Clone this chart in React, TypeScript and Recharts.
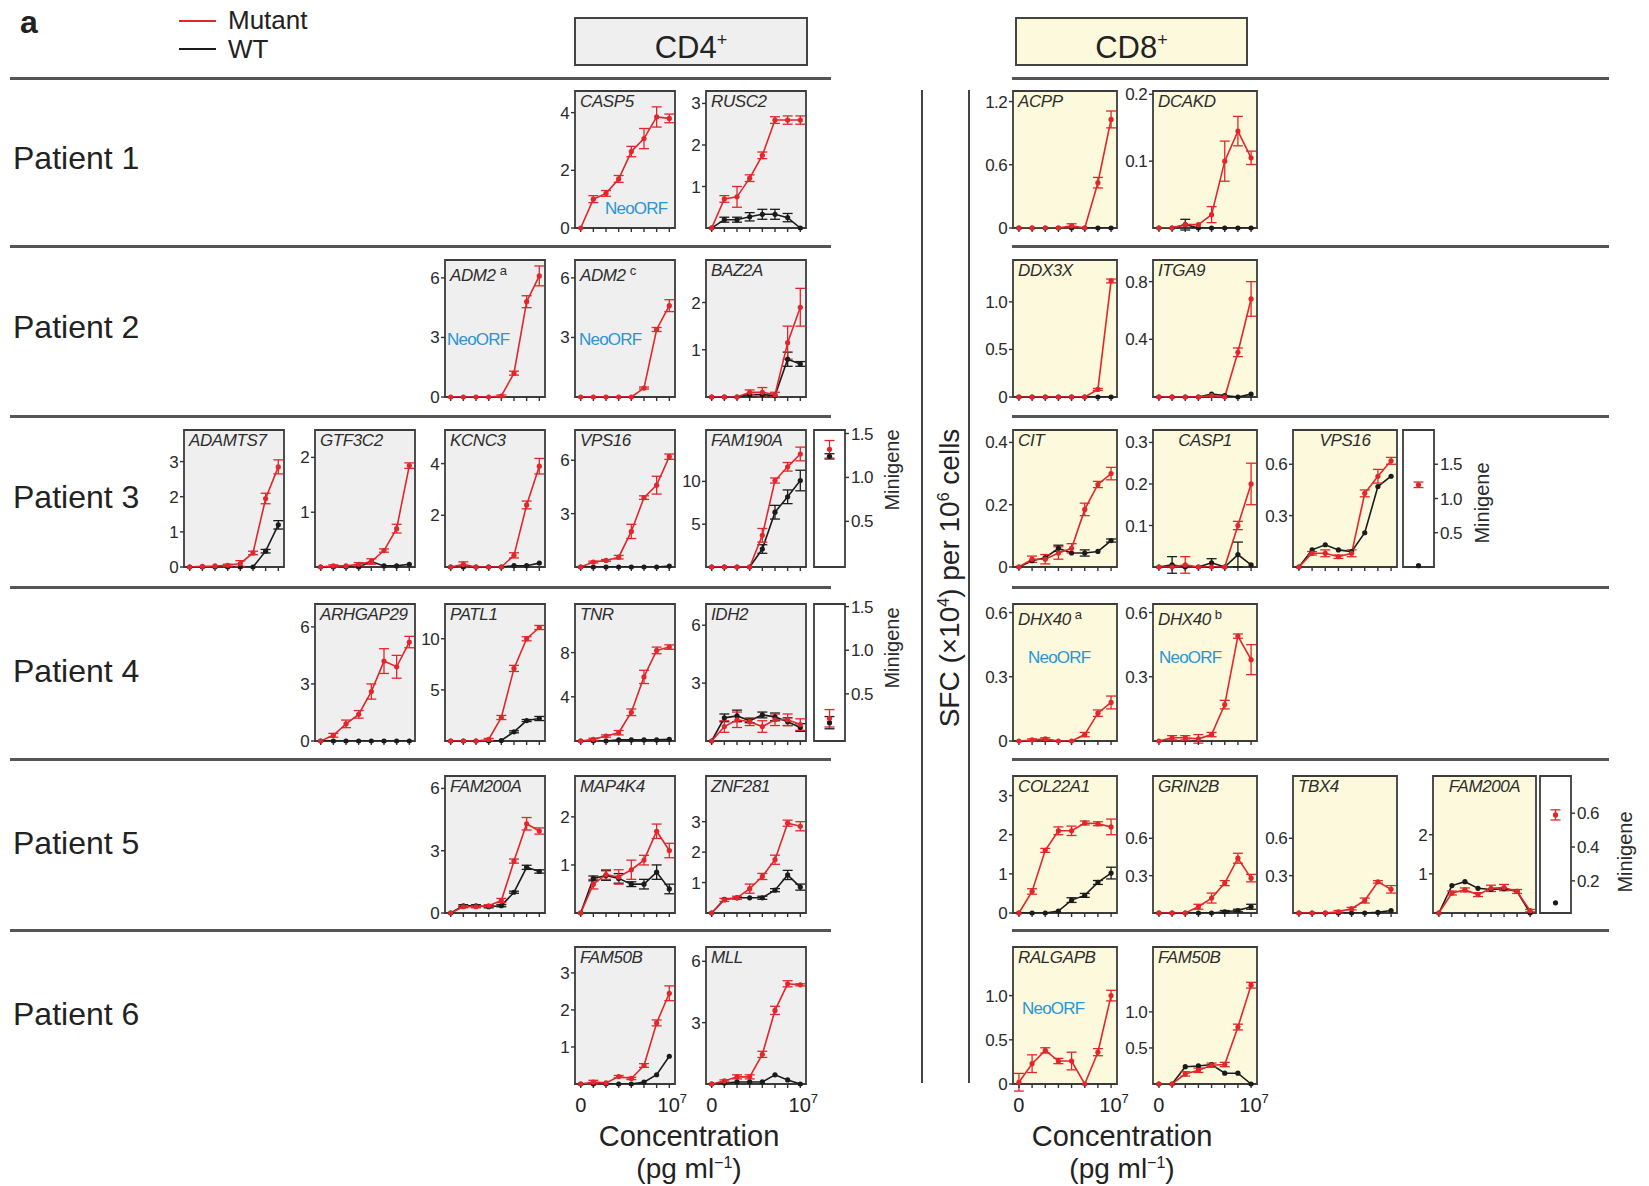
import React from "react";
import { LineChart, Line, XAxis, YAxis, ErrorBar, CartesianGrid, ReferenceArea } from "recharts";

const RED = "#e3262b";
const BLACK = "#1b1b1b";
const BLUE = "#2a94d6";
const CD4_BG = "#efefef";
const CD8_BG = "#fcf9dc";
const FONT = '"Liberation Sans", Arial, Helvetica, sans-serif';

// concentration steps 0, 10^1 ... 10^7 pg/ml
const conc = [0, 1, 2, 3, 4, 5, 6, 7];
const concLabels = ["0", "", "", "", "", "", "", "10^7"];

// ---- CD4+ ----
const casp5Mut = [0, 1.0, 1.2, 1.7, 2.65, 3.1, 3.85, 3.8];
const casp5MutErr = [0, 0.12, 0.1, 0.12, 0.18, 0.35, 0.35, 0.15];

const rusc2Mut = [0, 0.7, 0.75, 1.2, 1.75, 2.6, 2.6, 2.6];
const rusc2MutErr = [0, 0.08, 0.25, 0.08, 0.08, 0.08, 0.1, 0.1];
const rusc2Wt = [0, 0.2, 0.2, 0.27, 0.33, 0.33, 0.25, 0];
const rusc2WtErr = [0, 0.06, 0.06, 0.1, 0.12, 0.12, 0.1, 0];

const adm2aMut = [0, 0, 0, 0, 0.05, 1.2, 4.8, 6.1];
const adm2aMutErr = [0, 0, 0, 0, 0.05, 0.1, 0.3, 0.5];
const adm2cMut = [0, 0, 0, 0, 0, 0.45, 3.4, 4.6];
const adm2cMutErr = [0, 0, 0, 0, 0, 0.05, 0.1, 0.3];
const baz2aMut = [0, 0, 0, 0.1, 0.1, 0.05, 1.15, 1.9];
const baz2aMutErr = [0, 0, 0, 0.05, 0.1, 0.05, 0.35, 0.4];
const baz2aWt = [0, 0, 0, 0.05, 0.05, 0.03, 0.8, 0.7];
const baz2aWtErr = [0, 0, 0, 0, 0, 0, 0.15, 0.05];

const adamts7Mut = [0, 0.02, 0.03, 0.05, 0.1, 0.4, 1.95, 2.85];
const adamts7MutErr = [0, 0, 0, 0.03, 0.08, 0.05, 0.15, 0.2];
const adamts7Wt = [0, 0, 0, 0, 0, 0, 0.45, 1.2];
const adamts7WtErr = [0, 0, 0, 0, 0, 0, 0.05, 0.12];
const gtf3c2Mut = [0, 0.02, 0.02, 0.05, 0.1, 0.3, 0.7, 1.85];
const gtf3c2MutErr = [0, 0.02, 0, 0.03, 0.05, 0.03, 0.08, 0.05];
const gtf3c2Wt = [0, 0, 0, 0, 0.1, 0.02, 0.02, 0.05];
const kcnc3Mut = [0, 0.1, 0, 0, 0, 0.45, 2.4, 3.9];
const kcnc3MutErr = [0, 0.1, 0, 0, 0, 0.1, 0.15, 0.3];
const kcnc3Wt = [0, 0, 0, 0, 0, 0.05, 0.05, 0.15];
const vps16Mut = [0, 0.28, 0.37, 0.55, 2.0, 3.9, 4.6, 6.2];
const vps16MutErr = [0, 0.05, 0.05, 0.1, 0.4, 0.1, 0.5, 0.15];
const vps16Wt = [0, 0, 0, 0, 0, 0, 0, 0.05];
const fam190aMut = [0, 0, 0, 0, 3.7, 10.1, 11.7, 13.2];
const fam190aMutErr = [0, 0, 0, 0, 0.8, 0.3, 0.5, 0.8];
const fam190aWt = [0, 0, 0, 0, 2.1, 6.4, 8.2, 10.1];
const fam190aWtErr = [0, 0, 0, 0, 0.5, 0.8, 0.8, 1.2];
const p3Cd4MiniMut = [1.32];
const p3Cd4MiniMutErr = [0.1];
const p3Cd4MiniWt = [1.24];
const p3Cd4MiniWtErr = [0.03];

const arhgap29Mut = [0, 0.3, 0.9, 1.4, 2.6, 4.2, 3.9, 5.2];
const arhgap29MutErr = [0, 0.1, 0.2, 0.2, 0.4, 0.65, 0.6, 0.3];
const arhgap29Wt = [0, 0, 0, 0, 0, 0, 0, 0];
const patl1Mut = [0, 0, 0, 0.15, 2.3, 7.1, 10.0, 11.1];
const patl1MutErr = [0, 0, 0, 0.1, 0.2, 0.3, 0.2, 0.2];
const patl1Wt = [0, 0, 0, 0, 0.05, 0.9, 2.0, 2.2];
const patl1WtErr = [0, 0, 0, 0, 0, 0.1, 0.1, 0.2];
const tnrMut = [0, 0.15, 0.45, 0.75, 2.6, 5.8, 8.2, 8.5];
const tnrMutErr = [0, 0.1, 0.1, 0.2, 0.3, 0.6, 0.3, 0.2];
const tnrWt = [0, 0, 0, 0.1, 0.1, 0.1, 0.1, 0.15];
const idh2Mut = [0, 0.75, 1.1, 1.0, 0.75, 1.1, 1.1, 0.85];
const idh2MutErr = [0, 0.3, 0.4, 0.2, 0.3, 0.3, 0.3, 0.3];
const idh2Wt = [0, 1.2, 1.3, 1.05, 1.35, 1.25, 1.0, 0.7];
const idh2WtErr = [0, 0.2, 0.3, 0.1, 0.15, 0.2, 0.2, 0.2];
const p4Cd4MiniMut = [0.22];
const p4Cd4MiniMutErr = [0.1];
const p4Cd4MiniWt = [0.17];
const p4Cd4MiniWtErr = [0.07];

const fam200aMut = [0, 0.3, 0.3, 0.35, 0.6, 2.5, 4.3, 3.95];
const fam200aMutErr = [0, 0.05, 0.05, 0.05, 0.1, 0.1, 0.3, 0.15];
const fam200aWt = [0, 0.35, 0.35, 0.3, 0.35, 1.0, 2.2, 2.0];
const fam200aWtErr = [0, 0.05, 0.05, 0.05, 0.05, 0.05, 0.1, 0.08];
const map4k4Mut = [0, 0.6, 0.8, 0.75, 0.9, 1.1, 1.7, 1.3];
const map4k4MutErr = [0, 0.1, 0.1, 0.15, 0.2, 0.1, 0.15, 0.15];
const map4k4Wt = [0, 0.72, 0.78, 0.72, 0.6, 0.6, 0.85, 0.5];
const map4k4WtErr = [0, 0.05, 0.1, 0.1, 0.05, 0.1, 0.15, 0.1];
const znf281Mut = [0, 0.43, 0.5, 0.8, 1.2, 1.75, 2.95, 2.85];
const znf281MutErr = [0, 0.05, 0.05, 0.15, 0.1, 0.15, 0.1, 0.15];
const znf281Wt = [0, 0.45, 0.5, 0.5, 0.5, 0.75, 1.25, 0.85];
const znf281WtErr = [0, 0, 0, 0, 0.05, 0.05, 0.15, 0.1];

const fam50bMut = [0, 0.05, 0.03, 0.2, 0.15, 0.5, 1.65, 2.45];
const fam50bMutErr = [0, 0.05, 0, 0.03, 0.03, 0.05, 0.08, 0.2];
const fam50bWt = [0, 0, 0, 0, 0, 0.05, 0.25, 0.75];
const mllMut = [0, 0.15, 0.35, 0.35, 1.45, 3.6, 4.9, 4.85];
const mllMutErr = [0, 0.05, 0.1, 0.1, 0.15, 0.2, 0.15, 0.05];
const mllWt = [0, 0.05, 0.1, 0.1, 0.1, 0.45, 0.2, 0];

// ---- CD8+ ----
const acppMut = [0, 0, 0, 0, 0.02, 0, 0.43, 1.03];
const acppMutErr = [0, 0, 0, 0, 0.02, 0, 0.05, 0.08];
const acppWt = [0, 0, 0, 0, 0, 0, 0, 0];
const dcakdMut = [0, 0, 0.005, 0.005, 0.02, 0.1, 0.145, 0.105];
const dcakdMutErr = [0, 0, 0, 0, 0.012, 0.03, 0.022, 0.01];
const dcakdWt = [0, 0, 0.005, 0, 0, 0, 0, 0];
const dcakdWtErr = [0, 0, 0.008, 0, 0, 0, 0, 0];

const ddx3xMut = [0, 0, 0, 0, 0, 0, 0.08, 1.22];
const ddx3xMutErr = [0, 0, 0, 0, 0, 0, 0.01, 0.02];
const ddx3xWt = [0, 0, 0, 0, 0, 0, 0, 0];
const itga9Mut = [0, 0, 0, 0, 0.01, 0, 0.31, 0.68];
const itga9MutErr = [0, 0, 0, 0, 0, 0, 0.03, 0.12];
const itga9Wt = [0, 0, 0, 0, 0.02, 0.01, 0, 0.02];

const citMut = [0, 0.025, 0.025, 0.045, 0.06, 0.185, 0.265, 0.3];
const citMutErr = [0, 0.01, 0.015, 0.02, 0.015, 0.02, 0.01, 0.02];
const citWt = [0, 0.02, 0.03, 0.06, 0.045, 0.045, 0.05, 0.085];
const citWtErr = [0, 0, 0, 0.01, 0, 0.01, 0, 0.005];
const casp1Mut = [0, 0, 0.005, 0, 0, 0, 0.1, 0.2];
const casp1MutErr = [0, 0, 0.02, 0, 0, 0, 0.01, 0.05];
const casp1Wt = [0, 0.005, 0, 0, 0.01, 0, 0.03, 0.005];
const casp1WtErr = [0, 0.02, 0, 0, 0.01, 0, 0.03, 0];
const cd8Vps16Mut = [0, 0.08, 0.08, 0.06, 0.08, 0.43, 0.53, 0.62];
const cd8Vps16MutErr = [0, 0.01, 0.02, 0.01, 0.02, 0.02, 0.04, 0.02];
const cd8Vps16Wt = [0, 0.1, 0.13, 0.1, 0.09, 0.2, 0.47, 0.53];
const p3Cd8MiniMut = [1.2];
const p3Cd8MiniMutErr = [0.04];
const p3Cd8MiniWt = [0.02];
const p3Cd8MiniWtErr = [0];

const dhx40aMut = [0, 0.005, 0.01, 0, 0, 0.03, 0.13, 0.18];
const dhx40aMutErr = [0, 0.005, 0.005, 0, 0, 0.01, 0.015, 0.03];
const dhx40bMut = [0, 0.015, 0.015, 0.01, 0.03, 0.17, 0.49, 0.38];
const dhx40bMutErr = [0, 0.01, 0.01, 0.02, 0.01, 0.02, 0.01, 0.07];

const col22a1Mut = [0, 0.55, 1.6, 2.1, 2.1, 2.3, 2.28, 2.2];
const col22a1MutErr = [0, 0.07, 0.05, 0.1, 0.12, 0.05, 0.05, 0.2];
const col22a1Wt = [0, 0, 0, 0.05, 0.33, 0.45, 0.78, 1.02];
const col22a1WtErr = [0, 0, 0, 0, 0.06, 0.05, 0.05, 0.15];
const grin2bMut = [0, 0, 0, 0.05, 0.12, 0.24, 0.44, 0.28];
const grin2bMutErr = [0, 0, 0, 0.02, 0.04, 0.02, 0.04, 0.03];
const grin2bWt = [0, 0, 0, 0, 0, 0.01, 0.02, 0.05];
const grin2bWtErr = [0, 0, 0, 0, 0, 0.01, 0.01, 0.02];
const tbx4Mut = [0, 0, 0, 0.01, 0.035, 0.1, 0.25, 0.19];
const tbx4MutErr = [0, 0, 0, 0.01, 0.01, 0.02, 0.01, 0.03];
const tbx4Wt = [0, 0, 0, 0, 0, 0, 0.005, 0.02];
const cd8Fam200aMut = [0, 0.51, 0.59, 0.47, 0.63, 0.65, 0.55, 0.06];
const cd8Fam200aMutErr = [0, 0.05, 0.05, 0.05, 0.08, 0.08, 0.05, 0.03];
const cd8Fam200aWt = [0, 0.7, 0.8, 0.63, 0.6, 0.62, 0.55, 0];
const p5Cd8MiniMut = [0.59];
const p5Cd8MiniMutErr = [0.03];
const p5Cd8MiniWt = [0.07];
const p5Cd8MiniWtErr = [0];

const ralgapbMut = [0.02, 0.23, 0.38, 0.26, 0.26, 0, 0.36, 1.0];
const ralgapbMutErr = [0.1, 0.1, 0.03, 0.03, 0.1, 0, 0.04, 0.06];
const cd8Fam50bMut = [0, 0, 0.14, 0.19, 0.26, 0.27, 0.79, 1.37];
const cd8Fam50bMutErr = [0, 0, 0.03, 0.03, 0.03, 0.03, 0.04, 0.04];
const cd8Fam50bWt = [0, 0, 0.24, 0.25, 0.27, 0.15, 0.15, 0];

// layout
const CD4_X = [184, 315, 445, 575, 706];
const CD8_X = [1013, 1153, 1293, 1433];
const ROW_Y = [91, 260, 430, 604, 776, 947];
const BOX_H = 137;
const PAD_L = 44;
const PAD_R = 18;
const PAD_T = 12;
const X_DOM: [number, number] = [-0.45, 7.45];

type Spec = {
  gene: string;
  sup?: string;
  cd8?: boolean;
  left: number;
  top: number;
  w?: number;
  yMax: number;
  ticks: number[];
  dec?: number;
  mut: number[];
  mutErr: number[];
  wt?: number[];
  wtErr?: number[];
  neo?: [number, number];
  center?: boolean;
  bottom?: boolean;
};

const panels: Spec[] = [
  // Patient 1
  { gene: "CASP5", left: CD4_X[3], top: ROW_Y[0], yMax: 4.75, ticks: [0, 2, 4], mut: casp5Mut, mutErr: casp5MutErr, neo: [30, 108] },
  { gene: "RUSC2", left: CD4_X[4], top: ROW_Y[0], yMax: 3.3, ticks: [1, 2, 3], mut: rusc2Mut, mutErr: rusc2MutErr, wt: rusc2Wt, wtErr: rusc2WtErr },
  { gene: "ACPP", cd8: true, left: CD8_X[0], top: ROW_Y[0], w: 104, yMax: 1.3, ticks: [0, 0.6, 1.2], dec: 1, mut: acppMut, mutErr: acppMutErr, wt: acppWt },
  { gene: "DCAKD", cd8: true, left: CD8_X[1], top: ROW_Y[0], w: 104, yMax: 0.205, ticks: [0.1, 0.2], dec: 1, mut: dcakdMut, mutErr: dcakdMutErr, wt: dcakdWt, wtErr: dcakdWtErr },
  // Patient 2
  { gene: "ADM2", sup: "a", left: CD4_X[2], top: ROW_Y[1], yMax: 6.9, ticks: [0, 3, 6], mut: adm2aMut, mutErr: adm2aMutErr, neo: [2, 70] },
  { gene: "ADM2", sup: "c", left: CD4_X[3], top: ROW_Y[1], yMax: 6.9, ticks: [3, 6], mut: adm2cMut, mutErr: adm2cMutErr, neo: [4, 70] },
  { gene: "BAZ2A", left: CD4_X[4], top: ROW_Y[1], yMax: 2.9, ticks: [1, 2], mut: baz2aMut, mutErr: baz2aMutErr, wt: baz2aWt, wtErr: baz2aWtErr },
  { gene: "DDX3X", cd8: true, left: CD8_X[0], top: ROW_Y[1], w: 104, yMax: 1.44, ticks: [0, 0.5, 1.0], dec: 1, mut: ddx3xMut, mutErr: ddx3xMutErr, wt: ddx3xWt },
  { gene: "ITGA9", cd8: true, left: CD8_X[1], top: ROW_Y[1], w: 104, yMax: 0.95, ticks: [0.4, 0.8], dec: 1, mut: itga9Mut, mutErr: itga9MutErr, wt: itga9Wt },
  // Patient 3
  { gene: "ADAMTS7", left: CD4_X[0], top: ROW_Y[2], yMax: 3.9, ticks: [0, 1, 2, 3], mut: adamts7Mut, mutErr: adamts7MutErr, wt: adamts7Wt, wtErr: adamts7WtErr },
  { gene: "GTF3C2", left: CD4_X[1], top: ROW_Y[2], yMax: 2.5, ticks: [1, 2], mut: gtf3c2Mut, mutErr: gtf3c2MutErr, wt: gtf3c2Wt },
  { gene: "KCNC3", left: CD4_X[2], top: ROW_Y[2], yMax: 5.3, ticks: [2, 4], mut: kcnc3Mut, mutErr: kcnc3MutErr, wt: kcnc3Wt },
  { gene: "VPS16", left: CD4_X[3], top: ROW_Y[2], yMax: 7.7, ticks: [3, 6], mut: vps16Mut, mutErr: vps16MutErr, wt: vps16Wt },
  { gene: "FAM190A", left: CD4_X[4], top: ROW_Y[2], yMax: 16, ticks: [5, 10], mut: fam190aMut, mutErr: fam190aMutErr, wt: fam190aWt, wtErr: fam190aWtErr },
  { gene: "CIT", cd8: true, left: CD8_X[0], top: ROW_Y[2], w: 104, yMax: 0.44, ticks: [0, 0.2, 0.4], dec: 1, mut: citMut, mutErr: citMutErr, wt: citWt, wtErr: citWtErr },
  { gene: "CASP1", cd8: true, center: true, left: CD8_X[1], top: ROW_Y[2], w: 104, yMax: 0.33, ticks: [0.1, 0.2, 0.3], dec: 1, mut: casp1Mut, mutErr: casp1MutErr, wt: casp1Wt, wtErr: casp1WtErr },
  { gene: "VPS16", cd8: true, center: true, left: CD8_X[2], top: ROW_Y[2], w: 104, yMax: 0.8, ticks: [0.3, 0.6], dec: 1, mut: cd8Vps16Mut, mutErr: cd8Vps16MutErr, wt: cd8Vps16Wt },
  // Patient 4
  { gene: "ARHGAP29", left: CD4_X[1], top: ROW_Y[3], yMax: 7.2, ticks: [0, 3, 6], mut: arhgap29Mut, mutErr: arhgap29MutErr, wt: arhgap29Wt },
  { gene: "PATL1", left: CD4_X[2], top: ROW_Y[3], yMax: 13.4, ticks: [5, 10], mut: patl1Mut, mutErr: patl1MutErr, wt: patl1Wt, wtErr: patl1WtErr },
  { gene: "TNR", left: CD4_X[3], top: ROW_Y[3], yMax: 12.4, ticks: [4, 8], mut: tnrMut, mutErr: tnrMutErr, wt: tnrWt },
  { gene: "IDH2", left: CD4_X[4], top: ROW_Y[3], yMax: 7.1, ticks: [3, 6], mut: idh2Mut, mutErr: idh2MutErr, wt: idh2Wt, wtErr: idh2WtErr },
  { gene: "DHX40", sup: "a", cd8: true, left: CD8_X[0], top: ROW_Y[3], w: 104, yMax: 0.64, ticks: [0, 0.3, 0.6], dec: 1, mut: dhx40aMut, mutErr: dhx40aMutErr, neo: [15, 44] },
  { gene: "DHX40", sup: "b", cd8: true, left: CD8_X[1], top: ROW_Y[3], w: 104, yMax: 0.64, ticks: [0.3, 0.6], dec: 1, mut: dhx40bMut, mutErr: dhx40bMutErr, neo: [6, 44] },
  // Patient 5
  { gene: "FAM200A", left: CD4_X[2], top: ROW_Y[4], yMax: 6.6, ticks: [0, 3, 6], mut: fam200aMut, mutErr: fam200aMutErr, wt: fam200aWt, wtErr: fam200aWtErr },
  { gene: "MAP4K4", left: CD4_X[3], top: ROW_Y[4], yMax: 2.85, ticks: [1, 2], mut: map4k4Mut, mutErr: map4k4MutErr, wt: map4k4Wt, wtErr: map4k4WtErr },
  { gene: "ZNF281", left: CD4_X[4], top: ROW_Y[4], yMax: 4.5, ticks: [1, 2, 3], mut: znf281Mut, mutErr: znf281MutErr, wt: znf281Wt, wtErr: znf281WtErr },
  { gene: "COL22A1", cd8: true, left: CD8_X[0], top: ROW_Y[4], w: 104, yMax: 3.5, ticks: [0, 1, 2, 3], mut: col22a1Mut, mutErr: col22a1MutErr, wt: col22a1Wt, wtErr: col22a1WtErr },
  { gene: "GRIN2B", cd8: true, left: CD8_X[1], top: ROW_Y[4], w: 104, yMax: 1.1, ticks: [0.3, 0.6], dec: 1, mut: grin2bMut, mutErr: grin2bMutErr, wt: grin2bWt, wtErr: grin2bWtErr },
  { gene: "TBX4", cd8: true, left: CD8_X[2], top: ROW_Y[4], w: 104, yMax: 1.1, ticks: [0.3, 0.6], dec: 1, mut: tbx4Mut, mutErr: tbx4MutErr, wt: tbx4Wt },
  { gene: "FAM200A", cd8: true, center: true, left: CD8_X[3], top: ROW_Y[4], w: 103, yMax: 3.5, ticks: [1, 2], mut: cd8Fam200aMut, mutErr: cd8Fam200aMutErr, wt: cd8Fam200aWt },
  // Patient 6
  { gene: "FAM50B", bottom: true, left: CD4_X[3], top: ROW_Y[5], yMax: 3.7, ticks: [1, 2, 3], mut: fam50bMut, mutErr: fam50bMutErr, wt: fam50bWt },
  { gene: "MLL", bottom: true, left: CD4_X[4], top: ROW_Y[5], yMax: 6.7, ticks: [3, 6], mut: mllMut, mutErr: mllMutErr, wt: mllWt },
  { gene: "RALGAPB", cd8: true, bottom: true, left: CD8_X[0], top: ROW_Y[5], w: 104, yMax: 1.55, ticks: [0, 0.5, 1.0], dec: 1, mut: ralgapbMut, mutErr: ralgapbMutErr, neo: [9, 52] },
  { gene: "FAM50B", cd8: true, bottom: true, left: CD8_X[1], top: ROW_Y[5], w: 104, yMax: 1.9, ticks: [0.5, 1.0], dec: 1, mut: cd8Fam50bMut, mutErr: cd8Fam50bMutErr, wt: cd8Fam50bWt },
];

type MiniSpec = {
  left: number;
  top: number;
  yMin: number;
  yMax: number;
  ticks: number[];
  mut: number[];
  mutErr: number[];
  wt: number[];
  wtErr: number[];
  label: [number, number];
};

const minis: MiniSpec[] = [
  { left: 814, top: ROW_Y[2], yMin: -0.02, yMax: 1.54, ticks: [0.5, 1.0, 1.5], mut: p3Cd4MiniMut, mutErr: p3Cd4MiniMutErr, wt: p3Cd4MiniWt, wtErr: p3Cd4MiniWtErr, label: [892, 470] },
  { left: 814, top: ROW_Y[3], yMin: -0.04, yMax: 1.53, ticks: [0.5, 1.0, 1.5], mut: p4Cd4MiniMut, mutErr: p4Cd4MiniMutErr, wt: p4Cd4MiniWt, wtErr: p4Cd4MiniWtErr, label: [892, 648] },
  { left: 1403, top: ROW_Y[2], yMin: 0, yMax: 2.0, ticks: [0.5, 1.0, 1.5], mut: p3Cd8MiniMut, mutErr: p3Cd8MiniMutErr, wt: p3Cd8MiniWt, wtErr: p3Cd8MiniWtErr, label: [1482, 503] },
  { left: 1540, top: ROW_Y[4], yMin: 0.01, yMax: 0.82, ticks: [0.2, 0.4, 0.6], mut: p5Cd8MiniMut, mutErr: p5Cd8MiniMutErr, wt: p5Cd8MiniWt, wtErr: p5Cd8MiniWtErr, label: [1625, 852] },
];

const fmt = (v: number, dec: number) => (v === 0 ? "0" : v.toFixed(dec));

function XTick(props: any) {
  const { x, y, payload, show } = props;
  const lab = show ? concLabels[conc.indexOf(payload.value)] : "";
  if (!lab) return <g />;
  if (lab === "10^7") {
    return (
      <text x={x + 3} y={y + 22} textAnchor="middle" fontSize={20} fill="#222" fontFamily={FONT}>
        10<tspan dy={-9} fontSize={13}>7</tspan>
      </text>
    );
  }
  return (
    <text x={x} y={y + 22} textAnchor="middle" fontSize={20} fill="#222" fontFamily={FONT}>
      {lab}
    </text>
  );
}

const tickStyle = { fontSize: 17, fill: "#2a2a2a", fontFamily: FONT, letterSpacing: -0.6 };
const tickLine = { stroke: "#333", strokeWidth: 1.4 };

function Panel({ s }: { s: Spec }) {
  const w = s.w ?? 100;
  const padB = s.bottom ? 40 : 14;
  const dec = s.dec ?? 0;
  const rows = conc.map((c, i) => ({
    x: c,
    mut: s.mut[i],
    mutErr: s.mutErr[i],
    wt: s.wt ? s.wt[i] : undefined,
    wtErr: s.wtErr ? s.wtErr[i] : 0,
  }));
  return (
    <div style={{ position: "absolute", left: s.left - PAD_L, top: s.top - PAD_T }}>
      <LineChart width={w + PAD_L + PAD_R} height={BOX_H + PAD_T + padB} data={rows} margin={{ top: PAD_T, right: PAD_R, left: 0, bottom: 0 }}>
        <CartesianGrid horizontal={false} vertical={false} fill={s.cd8 ? CD8_BG : CD4_BG} fillOpacity={1} />
        <XAxis dataKey="x" type="number" domain={X_DOM} ticks={conc} interval={0} height={padB} axisLine={false} tickLine={tickLine} tickSize={4} tick={(p: any) => <XTick {...p} show={!!s.bottom} />} />
        <YAxis type="number" domain={[0, s.yMax]} allowDataOverflow ticks={s.ticks} interval={0} width={PAD_L} axisLine={false} tickLine={tickLine} tickSize={4} tickMargin={2} tick={tickStyle} tickFormatter={(v: number) => fmt(v, dec)} />
        <ReferenceArea x1={X_DOM[0]} x2={X_DOM[1]} y1={0} y2={s.yMax} fill="none" stroke="#3c3c3c" strokeWidth={1.8} ifOverflow="visible" />
        {s.wt && (
          <Line dataKey="wt" type="linear" stroke={BLACK} strokeWidth={1.6} dot={{ r: 2.6, fill: BLACK, stroke: BLACK, strokeWidth: 0, clipDot: false }} activeDot={false} isAnimationActive={false}>
            <ErrorBar dataKey="wtErr" direction="y" width={5} stroke={BLACK} strokeWidth={1.3} isAnimationActive={false} />
          </Line>
        )}
        <Line dataKey="mut" type="linear" stroke={RED} strokeWidth={1.6} dot={{ r: 2.6, fill: RED, stroke: RED, strokeWidth: 0, clipDot: false }} activeDot={false} isAnimationActive={false}>
          <ErrorBar dataKey="mutErr" direction="y" width={5} stroke={RED} strokeWidth={1.3} isAnimationActive={false} />
        </Line>
      </LineChart>
      <div
        style={{
          position: "absolute",
          top: PAD_T + 1,
          left: s.center ? PAD_L : PAD_L + 5,
          width: s.center ? w : undefined,
          textAlign: s.center ? "center" : "left",
          fontSize: 17,
          lineHeight: "20px",
          fontStyle: "italic",
          color: "#2d2d2d",
          letterSpacing: -0.4,
          whiteSpace: "nowrap",
        }}
      >
        {s.gene}
        {s.sup && <span style={{ fontStyle: "normal", fontSize: 13, verticalAlign: 6, marginLeft: 4 }}>{s.sup}</span>}
      </div>
      {s.neo && (
        <div style={{ position: "absolute", left: PAD_L + s.neo[0], top: PAD_T + s.neo[1], fontSize: 17, lineHeight: "20px", color: BLUE, letterSpacing: -0.8, whiteSpace: "nowrap" }}>
          NeoORF
        </div>
      )}
    </div>
  );
}

function Minigene({ m }: { m: MiniSpec }) {
  const w = 31;
  const rows = [{ x: 1, mut: m.mut[0], mutErr: m.mutErr[0], wt: m.wt[0], wtErr: m.wtErr[0] }];
  return (
    <>
      <div style={{ position: "absolute", left: m.left - 4, top: m.top - PAD_T }}>
        <LineChart width={w + 4 + 46} height={BOX_H + PAD_T + 14} data={rows} margin={{ top: PAD_T, right: 0, left: 4, bottom: 14 }}>
          <CartesianGrid horizontal={false} vertical={false} fill="#ffffff" fillOpacity={1} />
          <XAxis dataKey="x" type="number" domain={[0, 2]} hide />
          <YAxis orientation="right" type="number" domain={[m.yMin, m.yMax]} allowDataOverflow ticks={m.ticks} interval={0} width={46} axisLine={false} tickLine={tickLine} tickSize={4} tickMargin={2} tick={tickStyle} tickFormatter={(v: number) => v.toFixed(1)} />
          <ReferenceArea x1={0} x2={2} y1={m.yMin} y2={m.yMax} fill="none" stroke="#3c3c3c" strokeWidth={1.8} ifOverflow="visible" />
          <Line dataKey="wt" stroke="none" dot={{ r: 2.6, fill: BLACK, stroke: BLACK, strokeWidth: 0, clipDot: false }} activeDot={false} isAnimationActive={false}>
            <ErrorBar dataKey="wtErr" direction="y" width={5} stroke={BLACK} strokeWidth={1.3} isAnimationActive={false} />
          </Line>
          <Line dataKey="mut" stroke="none" dot={{ r: 2.6, fill: RED, stroke: RED, strokeWidth: 0, clipDot: false }} activeDot={false} isAnimationActive={false}>
            <ErrorBar dataKey="mutErr" direction="y" width={5} stroke={RED} strokeWidth={1.3} isAnimationActive={false} />
          </Line>
        </LineChart>
      </div>
      <div style={{ position: "absolute", left: m.label[0], top: m.label[1], transform: "translate(-50%, -50%) rotate(-90deg)", fontSize: 20, color: "#2a2a2a", whiteSpace: "nowrap" }}>
        Minigene
      </div>
    </>
  );
}

const patientNames = ["Patient 1", "Patient 2", "Patient 3", "Patient 4", "Patient 5", "Patient 6"];
const sepY = [78, 246, 416, 587, 759, 930];

export default function App() {
  return (
    <div style={{ position: "absolute", left: 0, top: 0, width: 1649, height: 1186, overflow: "hidden", background: "#fff", fontFamily: FONT, color: "#222" }}>
      {/* panel letter + legend */}
      <div style={{ position: "absolute", left: 20, top: 4, fontSize: 32, fontWeight: 700 }}>a</div>
      <div style={{ position: "absolute", left: 179, top: 20, width: 37, height: 2, background: RED }} />
      <div style={{ position: "absolute", left: 228, top: 4, fontSize: 26, lineHeight: "32px" }}>Mutant</div>
      <div style={{ position: "absolute", left: 179, top: 48, width: 37, height: 2, background: BLACK }} />
      <div style={{ position: "absolute", left: 228, top: 33, fontSize: 26, lineHeight: "32px" }}>WT</div>

      {/* column headers */}
      <div style={{ position: "absolute", left: 574, top: 17, width: 234, height: 49, boxSizing: "border-box", border: "2px solid #444", background: CD4_BG, textAlign: "center", fontSize: 31, lineHeight: "42px" }}>
        CD4<sup style={{ fontSize: 18, verticalAlign: 12 }}>+</sup>
      </div>
      <div style={{ position: "absolute", left: 1015, top: 17, width: 233, height: 49, boxSizing: "border-box", border: "2px solid #444", background: CD8_BG, textAlign: "center", fontSize: 31, lineHeight: "42px" }}>
        CD8<sup style={{ fontSize: 18, verticalAlign: 12 }}>+</sup>
      </div>

      {/* separators */}
      {sepY.map((y) => (
        <React.Fragment key={y}>
          <div style={{ position: "absolute", left: 10, top: y - 1, width: 821, height: 2.5, background: "#555" }} />
          <div style={{ position: "absolute", left: 1012, top: y - 1, width: 597, height: 2.5, background: "#555" }} />
        </React.Fragment>
      ))}
      <div style={{ position: "absolute", left: 921, top: 90, width: 2, height: 993, background: "#444" }} />
      <div style={{ position: "absolute", left: 968, top: 90, width: 2, height: 993, background: "#444" }} />

      {/* patient labels */}
      {patientNames.map((p, i) => (
        <div key={p} style={{ position: "absolute", left: 13, top: ROW_Y[i] + BOX_H / 2 - 21, fontSize: 32, lineHeight: "38px" }}>
          {p}
        </div>
      ))}

      {/* y axis title */}
      <div style={{ position: "absolute", left: 950, top: 578, transform: "translate(-50%, -50%) rotate(-90deg)", fontSize: 28, whiteSpace: "nowrap" }}>
        SFC (×10<sup style={{ fontSize: 16, verticalAlign: 10 }}>4</sup>) per 10<sup style={{ fontSize: 16, verticalAlign: 10 }}>6</sup> cells
      </div>

      {panels.map((s, i) => (
        <Panel key={i} s={s} />
      ))}
      {minis.map((m, i) => (
        <Minigene key={i} m={m} />
      ))}

      {/* x axis titles */}
      {[689, 1122].map((cx) => (
        <React.Fragment key={cx}>
          <div style={{ position: "absolute", left: cx, top: 1136, transform: "translate(-50%, -50%)", fontSize: 29, whiteSpace: "nowrap" }}>Concentration</div>
          <div style={{ position: "absolute", left: cx, top: 1169, transform: "translate(-50%, -50%)", fontSize: 28, whiteSpace: "nowrap" }}>
            (pg ml<sup style={{ fontSize: 16, verticalAlign: 10 }}>−1</sup>)
          </div>
        </React.Fragment>
      ))}
    </div>
  );
}
